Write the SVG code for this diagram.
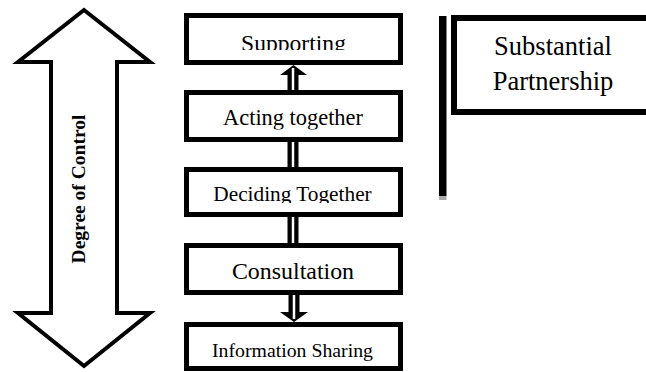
<svg xmlns="http://www.w3.org/2000/svg" width="646" height="372" viewBox="0 0 646 372">
<style>
.box{fill:#fff;stroke:#000;stroke-width:5}
.t{font-family:"Liberation Serif","Times New Roman",serif;fill:#000;text-anchor:middle}
.dl{stroke:#000;stroke-width:11;fill:none}
.dw{stroke:#fff;stroke-width:2.5;fill:none}
</style>
<defs>
<clipPath id="c1"><rect x="0" y="0" width="646" height="50"/></clipPath>
<clipPath id="c2"><rect x="0" y="0" width="646" height="129.5"/></clipPath>
<clipPath id="c3"><rect x="0" y="0" width="646" height="203"/></clipPath>
</defs>
<rect width="646" height="372" fill="#fff"/>
<g id="degree-of-control">
<polygon points="84,10 150,62 117,62 117,313 150,313 84,366 18,313 51,313 51,62 18,62" fill="#fff" stroke="#000" stroke-width="4" stroke-linejoin="miter"/>
<text class="t" font-weight="bold" font-size="19.5" transform="translate(85,189) rotate(-90)">Degree of Control</text>
</g>
<g id="connectors">
<path class="dl" d="M293,75 V90"/>
<polygon points="280,75 307,75 293.5,65" fill="#000"/>
<path class="dw" d="M293,68 V90"/>
<path class="dl" d="M293,142 V167"/>
<path class="dw" d="M293,142 V167"/>
<path class="dl" d="M293,217 V243"/>
<path class="dw" d="M293,217 V243"/>
<path class="dl" d="M294,295 V312"/>
<polygon points="280,312 308,312 294,322" fill="#000"/>
<path class="dw" d="M294,295 V319"/>
</g>
<g id="supporting">
<rect class="box" x="186.5" y="15.5" width="214" height="47"/>
<text class="t" font-size="23.6" x="293.5" y="51" clip-path="url(#c1)">Supporting</text>
</g>
<g id="acting-together">
<rect class="box" x="186.5" y="92.5" width="214" height="47"/>
<text class="t" font-size="22.4" x="293" y="125" clip-path="url(#c2)">Acting together</text>
</g>
<g id="deciding-together">
<rect class="box" x="186.5" y="169.5" width="214" height="45"/>
<text class="t" font-size="21.3" x="292.5" y="201" clip-path="url(#c3)">Deciding Together</text>
</g>
<g id="consultation">
<rect class="box" x="186.5" y="245.5" width="214" height="47"/>
<text class="t" font-size="23.9" x="293" y="279">Consultation</text>
</g>
<g id="information-sharing">
<rect class="box" x="186.5" y="324.5" width="214" height="44"/>
<text class="t" font-size="19.8" x="292.5" y="356.5">Information Sharing</text>
</g>
<g id="substantial-partnership">
<rect x="439" y="16" width="7.5" height="180" fill="#000"/>
<rect x="439" y="196" width="7.5" height="4" fill="#aaa"/>
<rect x="454" y="18" width="220" height="94" fill="#fff" stroke="#000" stroke-width="6"/>
<text class="t" font-size="26.5" x="553" y="55">Substantial</text>
<text class="t" font-size="26.5" x="553" y="90">Partnership</text>
</g>
</svg>
